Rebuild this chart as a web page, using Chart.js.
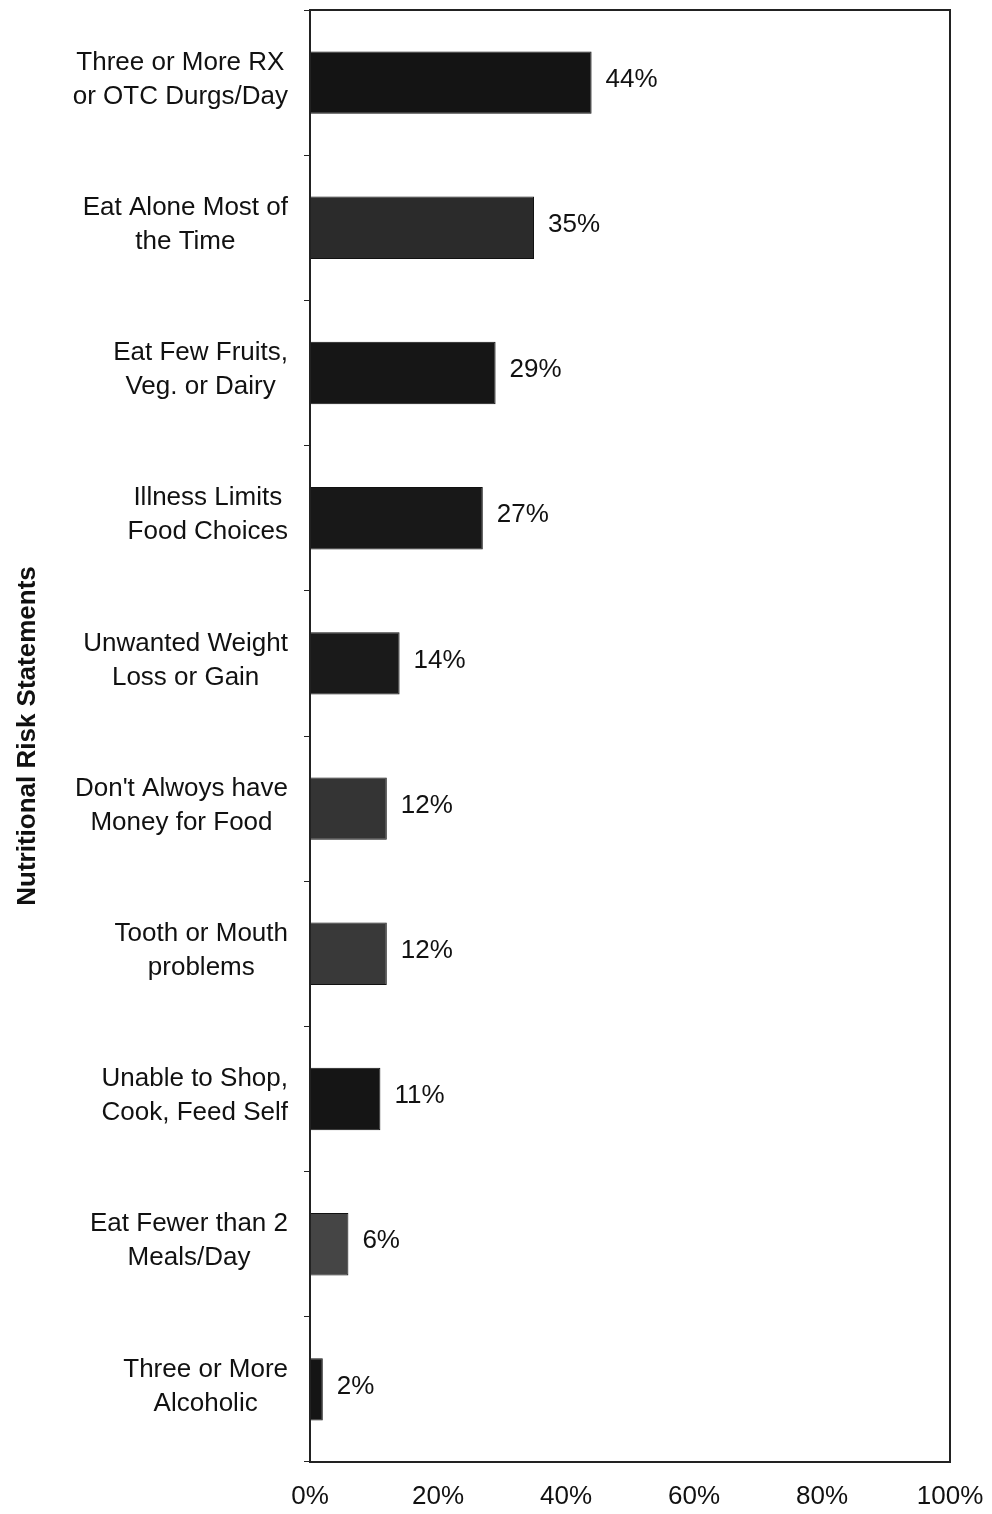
<!DOCTYPE html>
<html>
<head>
<meta charset="utf-8">
<script src="https://cdn.jsdelivr.net/npm/chart.js@4.4.1/dist/chart.umd.min.js"></script>
<style>
  html, body { margin: 0; padding: 0; background: #fff; }
  #wrap { width: 992px; height: 1514px; }
</style>
</head>
<body>
<div id="wrap"><canvas id="riskChart" width="992" height="1514"></canvas></div>
<script>
// Veriler
const categories = [
    ['Three or More RX', 'or OTC Durgs/Day'],
    ['Eat Alone Most of', 'the Time'],
    ['Eat Few Fruits,', 'Veg. or Dairy'],
    ['Illness Limits', 'Food Choices'],
    ['Unwanted Weight', 'Loss or Gain'],
    ["Don't Alwoys have", 'Money for Food'],
    ['Tooth or Mouth', 'problems'],
    ['Unable to Shop,', 'Cook, Feed Self'],
    ['Eat Fewer than 2', 'Meals/Day'],
    ['Three or More', 'Alcoholic']
];
const percentValues = [44, 35, 29, 27, 14, 12, 12, 11, 6, 2];
const barColors = ['#141414', '#2b2b2b', '#161616', '#181818', '#1a1a1a', '#343434', '#393939', '#151515', '#454545', '#151515'];
const xTicks = [0, 20, 40, 60, 80, 100];

const FONT = 'Liberation Sans, Arial, sans-serif';

// Kategori etiketleri: blok sağa dayalı, satırlar ortalı
const labelPlugin = {
    id: 'catLabels',
    afterDraw(chart) {
        const ctx = chart.ctx;
        const yScale = chart.scales.y;
        ctx.save();
        ctx.font = '26px ' + FONT;
        ctx.fillStyle = '#111';
        ctx.textAlign = 'center';
        ctx.textBaseline = 'middle';
        const rightEdge = chart.chartArea.left - 22;
        categories.forEach((lines, i) => {
            const cy = yScale.getPixelForValue(i);
            const w = Math.max(...lines.map(l => ctx.measureText(l).width));
            const cx = rightEdge - w / 2;
            const lh = 34;
            lines.forEach((l, j) => {
                ctx.fillText(l, cx, cy - 3 + (j - (lines.length - 1) / 2) * lh);
            });
        });
        ctx.restore();
    }
};

// Değer etiketleri ve çerçeve
const valuePlugin = {
    id: 'valueLabels',
    afterDatasetsDraw(chart) {
        const ctx = chart.ctx;
        const meta = chart.getDatasetMeta(0);
        ctx.save();
        ctx.font = '26px ' + FONT;
        ctx.fillStyle = '#111';
        ctx.textAlign = 'left';
        ctx.textBaseline = 'middle';
        meta.data.forEach((bar, i) => {
            ctx.fillText(percentValues[i] + '%', bar.x + 14, bar.y - 3);
        });
        const a = chart.chartArea;
        ctx.strokeStyle = '#222';
        ctx.lineWidth = 2;
        ctx.strokeRect(a.left, a.top, a.right - a.left, a.bottom - a.top);
        ctx.restore();
    }
};

new Chart(document.getElementById('riskChart'), {
    type: 'bar',
    data: {
        labels: categories.map(c => c.join(' ')),
        datasets: [{
            data: percentValues,
            backgroundColor: barColors,
            borderColor: '#111',
            borderWidth: 1,
            categoryPercentage: 1.0,
            barPercentage: 0.43
        }]
    },
    options: {
        indexAxis: 'y',
        responsive: false,
        animation: false,
        devicePixelRatio: 1,
        layout: { padding: { top: 10, right: 42, left: 0, bottom: 0 } },
        plugins: {
            legend: { display: false },
            tooltip: { enabled: false }
        },
        scales: {
            x: {
                min: 0,
                max: 100,
                afterBuildTicks: (s) => { s.ticks = xTicks.map(v => ({ value: v })); },
                ticks: {
                    callback: v => v + '%',
                    font: { family: FONT, size: 26 },
                    color: '#111',
                    padding: 19,
                    maxRotation: 0
                },
                grid: { display: false, drawTicks: false },
                border: { display: true, color: '#222', width: 2 },
                afterFit: s => {
                    s.height = 52;
                    s.paddingLeft = 0;
                    s.paddingRight = 0;
                }
            },
            y: {
                offset: true,
                ticks: { display: false },
                grid: {
                    offset: true,
                    drawOnChartArea: false,
                    drawTicks: true,
                    tickLength: 6,
                    color: '#222'
                },
                border: { display: true, color: '#222', width: 2 },
                title: {
                    display: true,
                    text: 'Nutritional Risk Statements',
                    font: { family: FONT, size: 26, weight: 'bold' },
                    color: '#111',
                    padding: { top: 12, bottom: 0 }
                },
                afterFit: s => { s.width = 310; }
            }
        }
    },
    plugins: [labelPlugin, valuePlugin]
});
</script>
</body>
</html>
